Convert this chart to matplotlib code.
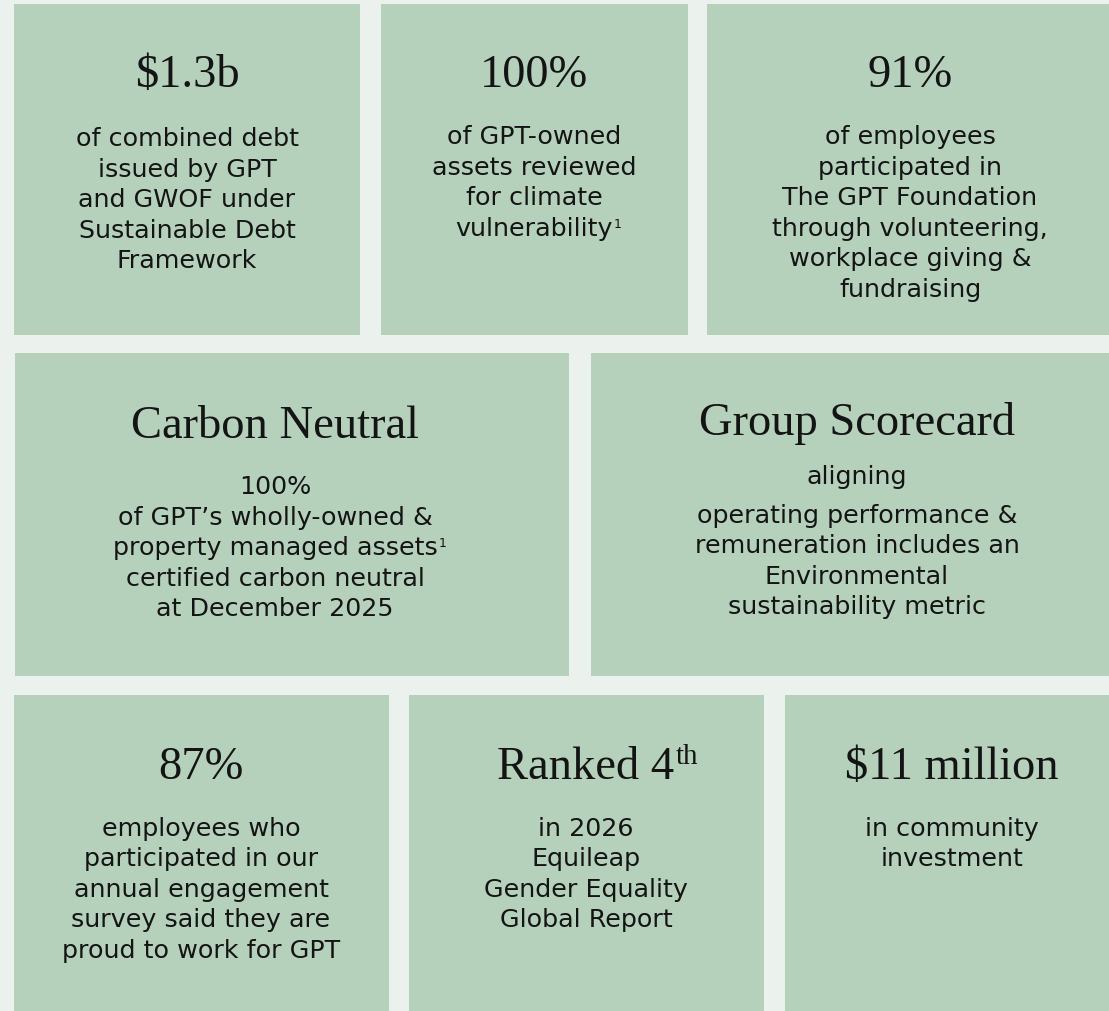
import matplotlib
matplotlib.use("Agg")
import matplotlib.pyplot as plt
from matplotlib.patches import Rectangle

# headline figures and the text under them
headlines = ["$1.3b", "100%", "91%", "Carbon Neutral", "Group Scorecard",
             "87%", "Ranked 4", "$11 million"]
bodies = [
    ["of combined debt", "issued by GPT", "and GWOF under", "Sustainable Debt", "Framework"],
    ["of GPT-owned", "assets reviewed", "for climate", "vulnerability"],
    ["of employees", "participated in", "The GPT Foundation", "through volunteering,",
     "workplace giving &", "fundraising"],
    ["100%", "of GPT\u2019s wholly-owned &", "property managed assets",
     "certified carbon neutral", "at December 2025"],
    ["aligning", "operating performance &", "remuneration includes an",
     "Environmental", "sustainability metric"],
    ["employees who", "participated in our", "annual engagement",
     "survey said they are", "proud to work for GPT"],
    ["in 2026", "Equileap", "Gender Equality", "Global Report"],
    ["in community", "investment"],
]
# footnote / ordinal marks: (tile, line index or -1 for headline, text)
marks = [(1, 3, "1"), (3, 2, "1"), (6, -1, "th")]

# layout (pixels): tile boxes x0, y0, x1, y1
boxes = [(14, 5, 360, 336), (381, 5, 688, 336), (707, 5, 1109, 336),
         (15, 354, 569, 677), (591, 354, 1109, 677),
         (14, 696, 389, 1012), (409, 696, 764, 1012), (785, 696, 1109, 1012)]
text_x = [187, 534, 910, 275, 857, 201, 586, 952]
head_y = [87, 87, 87, 438, 435, 779, 779, 779]
body_y = [146, 144, 144, 494, 484, 836, 836, 836]
pitch = 30.5
extra_gap = {4: 8}  # Group Scorecard has a little gap after "aligning"

bg = "#ebf1ec"
tile = "#b5d1bb"
ink = "#141414"
serif = "Liberation Serif"
sans = "DejaVu Sans"

fig = plt.figure(figsize=(11.09, 10.12), dpi=100, facecolor=bg)
ax = fig.add_axes([0, 0, 1, 1])
ax.set_xlim(0, 1109)
ax.set_ylim(1012, 0)
ax.axis("off")

for (x0, y0, x1, y1) in boxes:
    ax.add_patch(Rectangle((x0, y0), x1 - x0, y1 - y0, facecolor=tile, edgecolor="none"))

fig.canvas.draw()
renderer = fig.canvas.get_renderer()
inv = ax.transData.inverted()

def add_mark(txt_obj, mark, size, rise):
    bb = txt_obj.get_window_extent(renderer)
    xr, _ = inv.transform((bb.x1, bb.y0))
    _, yb = txt_obj.get_position()
    ax.text(xr + 1, yb - rise, mark, fontsize=size, family=txt_obj.get_fontfamily(),
            color=ink, ha="left", va="baseline")

for i, head in enumerate(headlines):
    cx = text_x[i]
    h = ax.text(cx, head_y[i], head, family=serif, fontsize=33.5, color=ink,
                ha="center", va="baseline")
    lines = []
    y = body_y[i]
    for j, line in enumerate(bodies[i]):
        t = ax.text(cx, y, line, family=sans, fontsize=18.3, color=ink,
                    ha="center", va="baseline")
        lines.append(t)
        y += pitch
        if j == 0 and i in extra_gap:
            y += extra_gap[i]
    for (ti, li, m) in marks:
        if ti != i:
            continue
        if li == -1:
            add_mark(h, m, 21, 15)
        else:
            add_mark(lines[li], m, 9, 8)

fig.savefig("out.png", dpi=100, facecolor=bg)
